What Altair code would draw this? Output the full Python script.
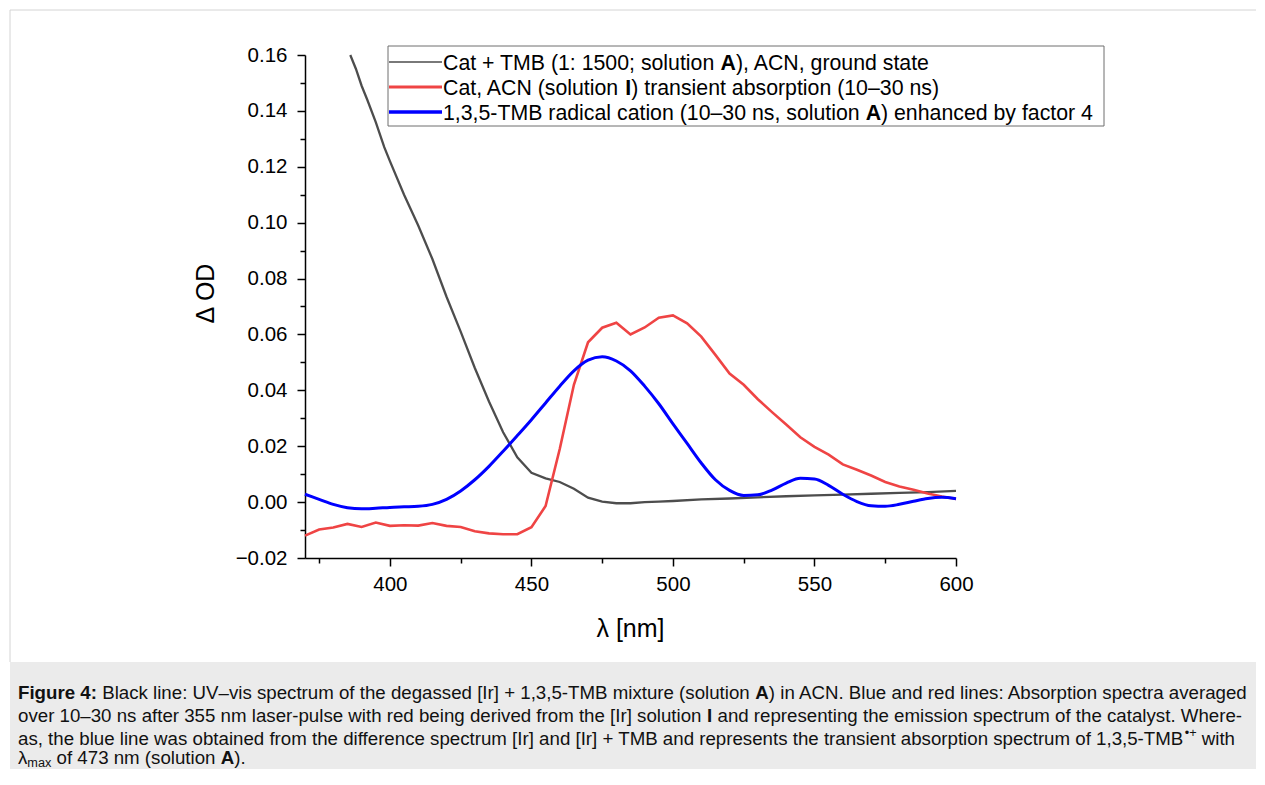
import altair as alt
import pandas as pd

# ---------------- data ----------------
ground_wl = [386, 388, 390, 392, 395, 398, 400, 405, 410, 415, 420, 425, 430, 435, 440,
             445, 450, 455, 460, 465, 470, 475, 480, 485, 490, 495, 500, 510, 520, 530,
             540, 550, 560, 570, 580, 590, 600]
ground_od = [0.160, 0.155, 0.149, 0.144, 0.136, 0.127, 0.122, 0.110, 0.099, 0.087, 0.0735,
             0.061, 0.048, 0.036, 0.025, 0.016, 0.0105, 0.0085, 0.0072, 0.0048, 0.0016,
             0.0002, -0.0004, -0.0004, 0.0000, 0.0002, 0.0004, 0.0010, 0.0013, 0.0017,
             0.0021, 0.0024, 0.0027, 0.0030, 0.0033, 0.0036, 0.0040]

ta_wl = [370, 375, 380, 385, 390, 395, 400, 405, 410, 415, 420, 425, 430, 435, 440, 445,
         450, 455, 460, 465, 470, 475, 480, 485, 490, 495, 500, 505, 510, 515, 520, 525,
         530, 535, 540, 545, 550, 555, 560, 565, 570, 575, 580, 585, 590, 595, 600]
cat_od = [-0.0120, -0.0098, -0.0091, -0.0078, -0.0089, -0.0073, -0.0085, -0.0083, -0.0084,
          -0.0075, -0.0085, -0.0089, -0.0104, -0.0112, -0.0115, -0.0115, -0.0090, -0.0014,
          0.0190, 0.0420, 0.0572, 0.0624, 0.0642, 0.0600, 0.0625, 0.0660, 0.0668, 0.0640,
          0.0592, 0.0527, 0.0460, 0.0420, 0.0368, 0.0322, 0.0278, 0.0232, 0.0198, 0.0170,
          0.0135, 0.0116, 0.0095, 0.0072, 0.0056, 0.0044, 0.0031, 0.0020, 0.0011]
tmb_od = [0.0028, 0.0010, -0.0008, -0.0020, -0.0024, -0.0022, -0.0019, -0.0017, -0.0015,
          -0.0008, 0.0010, 0.0040, 0.0080, 0.0128, 0.0182, 0.0238, 0.0295, 0.0355, 0.0415,
          0.0470, 0.0508, 0.0520, 0.0505, 0.0470, 0.0415, 0.0352, 0.0280, 0.0210, 0.0140,
          0.0080, 0.0042, 0.0024, 0.0026, 0.0043, 0.0068, 0.0085, 0.0083, 0.0060, 0.0028,
          0.0002, -0.0013, -0.0015, -0.0008, 0.0003, 0.0013, 0.0017, 0.0012]

x_ticks = [375, 400, 425, 450, 475, 500, 525, 550, 575, 600]
y_ticks = [-0.02, -0.01, 0.0, 0.01, 0.02, 0.03, 0.04, 0.05, 0.06, 0.07, 0.08, 0.09, 0.10,
           0.11, 0.12, 0.13, 0.14, 0.15, 0.16]

legend_rows = [
    [("Cat + TMB (1: 1500; solution ", "r"), ("A", "b"), ("), ACN, ground state", "r")],
    [("Cat, ACN (solution ", "r"), ("I", "b"), (") transient absorption (10–30 ns)", "r")],
    [("1,3,5-TMB radical cation (10–30 ns, solution ", "r"), ("A", "b"),
     (") enhanced by factor 4", "r")],
]
caption_lines = [
    [("Figure 4:", "b"),
     (" Black line: UV–vis spectrum of the degassed [Ir] + 1,3,5-TMB mixture (solution ", "r"),
     ("A", "b"), (") in ACN. Blue and red lines: Absorption spectra averaged", "r")],
    [("over 10–30 ns after 355 nm laser-pulse with red being derived from the [Ir] solution ", "r"),
     ("I", "b"), (" and representing the emission spectrum of the catalyst. Where-", "r")],
    [("as, the blue line was obtained from the difference spectrum [Ir] and [Ir] + TMB and "
      "represents the transient absorption spectrum of 1,3,5-TMB", "r"), ("•+", "sup"),
     (" with", "r")],
    [("λ", "r"), ("max", "sub"), (" of 473 nm (solution ", "r"), ("A", "b"), (").", "r")],
]

# ---------------- styling / layout ----------------
FONT = "Liberation Sans"
W, H = 651, 503
OX, OY = 305, 55          # page position of the plot area's top-left corner
PAGE_BOTTOM = 769         # page y where the chart (svg) ends
PAGE_RIGHT = 1256         # page x where the chart (svg) ends
BLACK_C, RED_C, BLUE_C = "#4d4d4d", "#ef4444", "#0000ff"

# Arial / Liberation Sans advance widths (1/1000 em)
W_REG = {" ": 278, "(": 333, ")": 333, "+": 584, ",": 278, "-": 333, ".": 278, ":": 278,
         ";": 278, "[": 278, "]": 278, "–": 556, "•": 350, "λ": 500,
         "A": 667, "B": 667, "C": 722, "D": 722, "E": 667, "F": 611, "G": 778, "H": 722,
         "I": 278, "J": 500, "K": 667, "L": 556, "M": 833, "N": 722, "O": 778, "P": 667,
         "Q": 778, "R": 722, "S": 667, "T": 611, "U": 722, "V": 667, "W": 944, "X": 667,
         "Y": 667, "Z": 611,
         "a": 556, "b": 556, "c": 500, "d": 556, "e": 556, "f": 278, "g": 556, "h": 556,
         "i": 222, "j": 222, "k": 500, "l": 222, "m": 833, "n": 556, "o": 556, "p": 556,
         "q": 556, "r": 333, "s": 500, "t": 278, "u": 556, "v": 500, "w": 722, "x": 500,
         "y": 500, "z": 500}
W_BOLD = {" ": 278, ":": 333, "A": 722, "F": 611, "I": 278, "i": 278, "g": 611, "u": 611,
          "r": 389, "e": 556}


def tw(s, size, bold=False):
    tot = 0
    for ch in s:
        if bold and ch in W_BOLD:
            tot += W_BOLD[ch]
        elif ch.isdigit():
            tot += 556
        else:
            tot += W_REG.get(ch, 556)
    return tot * size / 1000.0


ONE = alt.Data(values=[{"k": 0}])


def text_layer(s, x, y, size, weight="normal", color="#000000"):
    return alt.Chart(ONE).mark_text(
        text=s, align="left", baseline="alphabetic", font=FONT, fontSize=size,
        fontWeight=weight, color=color
    ).encode(x=alt.value(x), y=alt.value(y))


def rich_line(segs, x0, y, size, color="#000000"):
    layers = []
    x = x0
    for s, style in segs:
        bold = style == "b"
        fs = size if style in ("r", "b") else size * 0.68
        yy = y
        if style == "sup":
            yy = y - size * 0.42
        elif style == "sub":
            yy = y + size * 0.16
        lead = len(s) - len(s.lstrip(" "))
        core = s.strip(" ")
        if core:
            layers.append(text_layer(core, x + tw(" " * lead, fs, bold), yy, fs,
                                     "bold" if bold else "normal", color))
        x += tw(s, fs, bold)
    return layers


def rule(x1, x2, y1, y2, color, width):
    return alt.Chart(ONE).mark_rule(color=color, strokeWidth=width).encode(
        x=alt.value(x1), x2=alt.value(x2), y=alt.value(y1), y2=alt.value(y2))


def rect(x1, x2, y1, y2, fill, stroke=None, sw=1):
    kw = dict(fill=fill)
    if stroke:
        kw.update(stroke=stroke, strokeWidth=sw)
    return alt.Chart(ONE).mark_rect(**kw).encode(
        x=alt.value(x1), x2=alt.value(x2), y=alt.value(y1), y2=alt.value(y2))


# ---------------- axes ----------------
common_axis = dict(
    domainColor="#000000", domainWidth=1.5, tickColor="#000000", tickWidth=1.5,
    labelFont=FONT, labelFontSize=20.5, labelColor="#000000",
    titleFont=FONT, titleFontSize=25, titleFontWeight="normal", titleColor="#000000",
    grid=False, labelOverlap=False, labelFlush=False,
)

x_enc = alt.X(
    "wl:Q",
    scale=alt.Scale(domain=[370, 600], nice=False, zero=False),
    axis=alt.Axis(
        values=x_ticks, format="d",
        labelExpr="datum.value % 50 == 0 ? datum.label : ''",
        tickSize={"condition": {"test": "datum.value % 50 == 0", "value": 8}, "value": 5},
        labelPadding=8,
        title="λ [nm]", titleX=325, titleY=70, titleAlign="center", titleBaseline="middle",
        **common_axis),
)
y_enc = alt.Y(
    "od:Q",
    scale=alt.Scale(domain=[-0.02, 0.16], nice=False, zero=False),
    axis=alt.Axis(
        values=y_ticks, format=".2f",
        labelExpr="abs(round(datum.value * 100)) % 2 == 0 ? datum.label : ''",
        tickSize={"condition": {"test": "abs(round(datum.value * 100)) % 2 == 0", "value": 8},
                  "value": 5},
        labelPadding=10,
        title="Δ OD", titleX=-100, titleY=238, titleAngle=270, titleAlign="center",
        titleBaseline="middle", **common_axis),
)

ground_df = pd.DataFrame({"wl": ground_wl, "od": ground_od})
cat_df = pd.DataFrame({"wl": ta_wl, "od": cat_od})
tmb_df = pd.DataFrame({"wl": ta_wl, "od": tmb_od})

ground = alt.Chart(ground_df).mark_line(color=BLACK_C, strokeWidth=2.3).encode(x=x_enc, y=y_enc)
cat = alt.Chart(cat_df).mark_line(color=RED_C, strokeWidth=2.6).encode(x=x_enc, y=y_enc)
tmb = alt.Chart(tmb_df).mark_line(color=BLUE_C, strokeWidth=3, interpolate="monotone").encode(
    x=x_enc, y=y_enc)

# ---------------- frame and caption box ----------------
L, R = 10 - OX, PAGE_RIGHT + 2 - OX
layers = [
    rect(L, R, 662 - OY, PAGE_BOTTOM + 2 - OY, "#ebebeb"),
    rule(L, R, 10 - OY, 10 - OY, "#d4d4d4", 1),
    rule(L, L, 10 - OY, 662 - OY, "#d4d4d4", 1),
    ground, cat, tmb,
]

# ---------------- legend ----------------
LEG_FS = 21.3
layers.append(rect(388 - OX, 1104 - OX, 46 - OY, 126 - OY, "#ffffff", "#6e6e6e", 1))
sample_specs = [(BLACK_C, 1.3, 62), (RED_C, 3.2, 87), (BLUE_C, 3.4, 112)]
for (col, sw, yline), segs in zip(sample_specs, legend_rows):
    layers.append(rule(389 - OX, 442 - OX, yline - OY, yline - OY, col, sw))
    layers += rich_line(segs, 443 - OX, yline + 7.5 - OY, LEG_FS)

# ---------------- caption ----------------
CAP_FS = 18.7
for segs, base in zip(caption_lines, [699, 722, 745, 764]):
    layers += rich_line(segs, 18 - OX, base - OY, CAP_FS, "#111111")

chart = alt.layer(*layers).properties(
    width=W, height=H,
    autosize=alt.AutoSizeParams(type="none"),
    padding={"left": OX - 8, "top": OY - 8, "right": PAGE_RIGHT - OX - W,
             "bottom": PAGE_BOTTOM - OY - H},
    background="#ffffff",
).configure_view(stroke=None)

chart.save("out.html", embed_options={"renderer": "svg", "actions": False})
